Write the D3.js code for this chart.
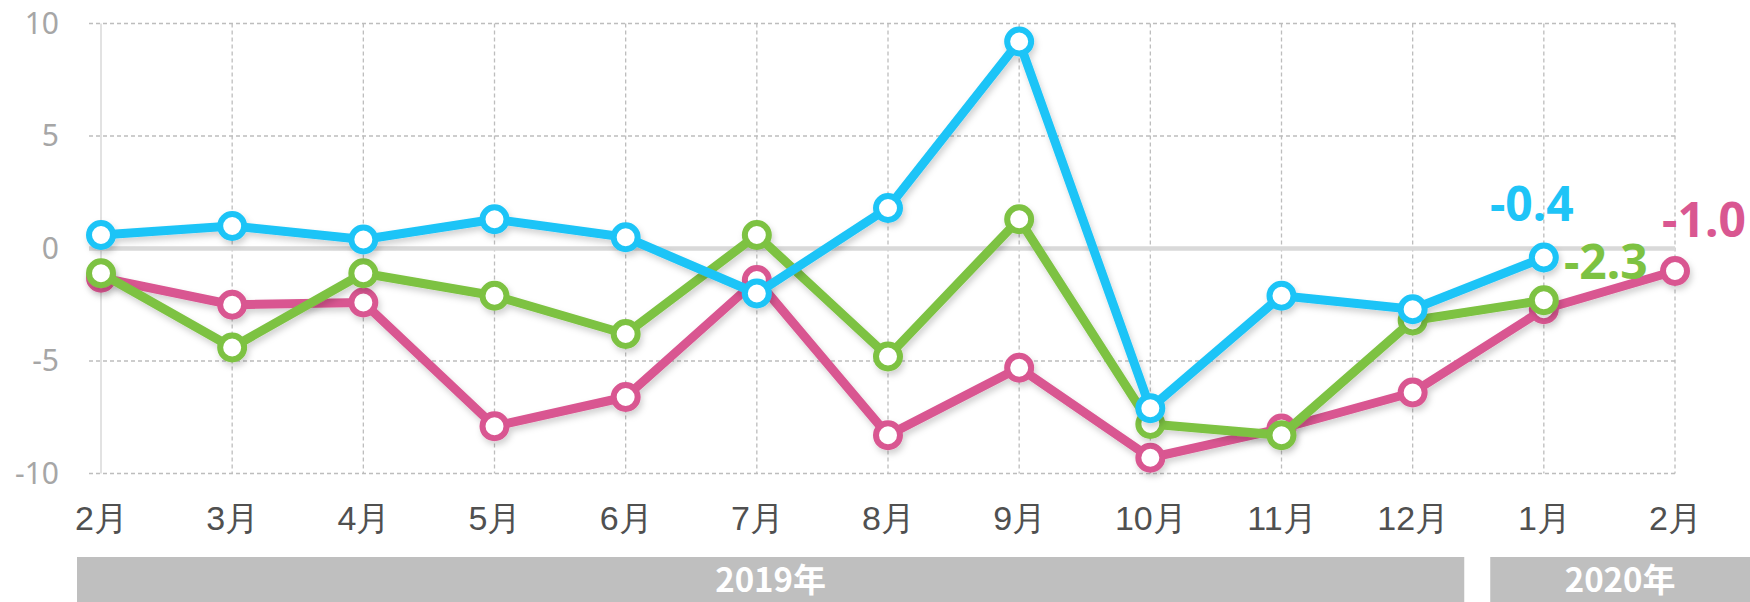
<!DOCTYPE html>
<html>
<head>
  <meta charset="UTF-8">
  <title>Monthly change</title>
  <script src="https://cdn.jsdelivr.net/npm/d3@7"></script>
  <style>
    body { margin: 0; background: #fff; }
    svg { display: block; font-family: "Noto Sans CJK JP", "Noto Sans", sans-serif; }
  </style>
</head>
<body>
  <div id="chart"></div>
  <script>
    // data
    const months = ['2月', '3月', '4月', '5月', '6月', '7月', '8月', '9月', '10月', '11月', '12月', '1月', '2月'];
    const yearLabels = ['2019年', '2020年'];
    const yearFirst = [0, 11];   // first month index of each year
    const yearLast = [10, 12];   // last month index of each year
    const yTicks = [-10, -5, 0, 5, 10];

    const pinkValues = [-1.3, -2.5, -2.4, -7.9, -6.6, -1.4, -8.3, -5.3, -9.3, -8.0, -6.4, -2.7, -1.0];
    const greenValues = [-1.1, -4.4, -1.1, -2.1, -3.8, 0.6, -4.8, 1.3, -7.8, -8.3, -3.2, -2.3, null];
    const blueValues = [0.6, 1.0, 0.4, 1.3, 0.5, -2.0, 1.8, 9.2, -7.1, -2.1, -2.7, -0.4, null];

    const seriesNames = ['pink', 'green', 'blue'];
    const seriesValues = [pinkValues, greenValues, blueValues];
    const seriesColors = ['#d95791', '#7dc242', '#1ec4f7'];
    const endLabels = ['-1.0', '-2.3', '-0.4'];

    const width = 1750, height = 602;
    const svg = d3.select('#chart').append('svg')
      .attr('width', width)
      .attr('height', height);

    const defs = svg.append('defs');
    defs.append('filter').attr('id', 'shadow')
      .attr('x', '-10%').attr('y', '-10%').attr('width', '120%').attr('height', '130%')
      .append('feDropShadow')
        .attr('dx', 2).attr('dy', 4).attr('stdDeviation', 3)
        .attr('flood-color', '#000').attr('flood-opacity', 0.18);

    const x = d3.scaleLinear().domain([0, months.length - 1]).range([101, 1675]);
    const y = d3.scaleLinear().domain([-10, 10]).range([473.5, 23.5]);

    // grid
    const grid = svg.append('g');
    grid.selectAll('line.h').data(yTicks.filter(t => t !== 0)).enter()
      .append('line')
        .attr('x1', 89).attr('x2', x(months.length - 1))
        .attr('y1', d => y(d)).attr('y2', d => y(d))
        .attr('stroke', '#bdbdbd').attr('stroke-width', 1.3)
        .attr('stroke-dasharray', '4,3');
    grid.selectAll('line.v').data(d3.range(1, months.length)).enter()
      .append('line')
        .attr('x1', d => x(d)).attr('x2', d => x(d))
        .attr('y1', y(10)).attr('y2', y(-10))
        .attr('stroke', '#bdbdbd').attr('stroke-width', 1.3)
        .attr('stroke-dasharray', '4,3');
    grid.append('line')
      .attr('x1', x(0)).attr('x2', x(0))
      .attr('y1', y(10)).attr('y2', y(-10))
      .attr('stroke', '#d9d9d9').attr('stroke-width', 1.5);
    grid.append('line')
      .attr('x1', 89).attr('x2', x(months.length - 1))
      .attr('y1', y(0)).attr('y2', y(0))
      .attr('stroke', '#d9d9d9').attr('stroke-width', 4.5);

    // y axis
    const yAxis = svg.append('g')
      .attr('transform', 'translate(59,0)')
      .call(d3.axisLeft(y).tickValues(yTicks).tickFormat(d => String(d)).tickSize(0).tickPadding(0));
    yAxis.select('.domain').remove();
    yAxis.selectAll('text')
      .attr('fill', '#a6a6a6')
      .style('font-family', '"Noto Sans", sans-serif')
      .style('font-size', '30px');

    // x axis labels
    const xAxis = svg.append('g')
      .attr('transform', 'translate(0,506)')
      .call(d3.axisBottom(x).tickValues(d3.range(months.length)).tickFormat(i => months[i]).tickSize(0).tickPadding(0));
    xAxis.select('.domain').remove();
    xAxis.selectAll('text')
      .attr('fill', '#505050')
      .style('font-size', '34px')
      .style('font-weight', 500);

    // year bands
    const bandLeft = i => i === 0 ? x(yearFirst[i]) - 24 : (x(yearLast[i - 1]) + x(yearFirst[i])) / 2 + 12;
    const bandRight = i => i === yearLabels.length - 1 ? width : (x(yearLast[i]) + x(yearFirst[i + 1])) / 2 - 14;
    const years = svg.append('g');
    years.selectAll('rect').data(yearLabels).enter()
      .append('rect')
        .attr('x', (d, i) => bandLeft(i))
        .attr('y', 557)
        .attr('width', (d, i) => bandRight(i) - bandLeft(i))
        .attr('height', height - 557)
        .attr('fill', '#bfbfbf');
    years.selectAll('text').data(yearLabels).enter()
      .append('text')
        .attr('x', (d, i) => (bandLeft(i) + bandRight(i)) / 2)
        .attr('y', 592)
        .attr('text-anchor', 'middle')
        .attr('fill', '#fff')
        .style('font-size', '33px')
        .style('font-weight', 'bold')
        .text(d => d);

    // series
    const line = d3.line()
      .defined(d => d.v !== null)
      .x(d => x(d.i))
      .y(d => y(d.v));

    seriesNames.forEach(function(name, s)
    {
      const pts = seriesValues[s].map((v, i) => ({ i: i, v: v }));
      const g = svg.append('g').attr('class', name).attr('filter', 'url(#shadow)');
      g.append('path')
        .datum(pts)
        .attr('d', line)
        .attr('fill', 'none')
        .attr('stroke', seriesColors[s])
        .attr('stroke-width', 9)
        .attr('stroke-linejoin', 'round');
      g.selectAll('circle').data(pts.filter(d => d.v !== null)).enter()
        .append('circle')
          .attr('cx', d => x(d.i))
          .attr('cy', d => y(d.v))
          .attr('r', 12)
          .attr('fill', '#fff')
          .attr('stroke', seriesColors[s])
          .attr('stroke-width', 6);
    });

    // end labels
    const lastIndex = vals => d3.max(vals.map((v, i) => v === null ? -1 : i));
    const labelDx = [29, 62, -12];
    const labelDy = [-34, -21, -37];
    seriesNames.forEach(function(name, s)
    {
      const li = lastIndex(seriesValues[s]);
      svg.append('text')
        .attr('x', x(li) + labelDx[s])
        .attr('y', y(seriesValues[s][li]) + labelDy[s])
        .attr('text-anchor', 'middle')
        .attr('fill', seriesColors[s])
        .style('font-family', '"Noto Sans", sans-serif')
        .style('font-size', '48px')
        .style('font-weight', 'bold')
        .text(endLabels[s]);
    });
  </script>
</body>
</html>
